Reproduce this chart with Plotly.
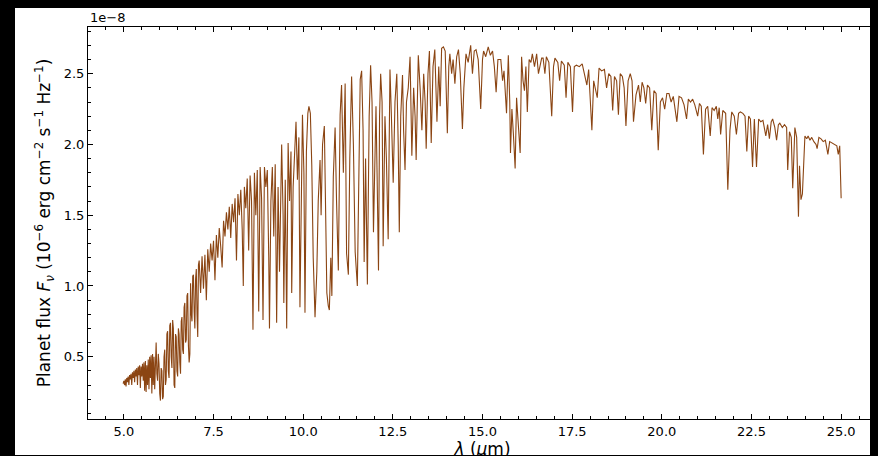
import plotly.graph_objects as go

# Wavelength (micron) and planet flux (units of 1e-8)
wavelength_um = [
    4.98, 5.00, 5.02, 5.04, 5.06, 5.08, 5.10, 5.12, 5.14, 5.16, 5.18, 5.20, 5.22, 5.24, 5.26, 5.28,
    5.30, 5.32, 5.34, 5.36, 5.38, 5.40, 5.42, 5.44, 5.46, 5.48, 5.50, 5.52, 5.54, 5.56, 5.58, 5.60,
    5.62, 5.64, 5.66, 5.68, 5.70, 5.72, 5.74, 5.76, 5.78, 5.80, 5.82, 5.84, 5.86, 5.88, 5.90, 5.92,
    5.94, 5.96, 5.98, 6.00, 6.02, 6.04, 6.06, 6.08, 6.10, 6.12, 6.14, 6.16, 6.18, 6.20, 6.22, 6.24,
    6.26, 6.28, 6.30, 6.32, 6.34, 6.36, 6.38, 6.40, 6.42, 6.44, 6.46, 6.48, 6.50, 6.52, 6.54, 6.56,
    6.58, 6.60, 6.62, 6.64, 6.66, 6.68, 6.70, 6.72, 6.74, 6.76, 6.78, 6.80, 6.82, 6.84, 6.86, 6.88,
    6.90, 6.92, 6.94, 6.96, 6.98, 7.00, 7.02, 7.04, 7.06, 7.08,
    7.10, 7.14, 7.18, 7.22, 7.26, 7.30, 7.34, 7.38, 7.42, 7.46, 7.50, 7.54, 7.58, 7.62, 7.66, 7.70,
    7.74, 7.78, 7.82, 7.86, 7.90, 7.94, 7.98, 8.02, 8.06, 8.10, 8.14, 8.18, 8.22, 8.26, 8.30, 8.33,
    8.36, 8.40, 8.44, 8.48, 8.52, 8.56, 8.60, 8.64, 8.68, 8.72, 8.76, 8.80, 8.84, 8.88, 8.92, 8.96,
    9.00, 9.04, 9.06, 9.10, 9.14, 9.18, 9.22, 9.26, 9.30, 9.34, 9.38, 9.40, 9.44, 9.46, 9.50, 9.54,
    9.58, 9.62, 9.66, 9.68, 9.72, 9.76, 9.80, 9.84, 9.88, 9.91, 9.95, 9.98, 10.02, 10.05, 10.09,
    10.13, 10.16, 10.20, 10.24, 10.28, 10.33, 10.38, 10.42, 10.47, 10.50, 10.54, 10.59, 10.63,
    10.66, 10.70, 10.73, 10.77, 10.80, 10.84, 10.89, 10.93, 10.98, 11.03, 11.07, 11.12, 11.17,
    11.21, 11.26, 11.30, 11.35, 11.40, 11.45, 11.51, 11.55, 11.59, 11.63, 11.67, 11.70, 11.74,
    11.79, 11.84, 11.88, 11.92, 11.96, 12.00, 12.03, 12.06, 12.10, 12.13, 12.16, 12.20, 12.23,
    12.28, 12.32, 12.37, 12.42, 12.46, 12.51, 12.56, 12.61, 12.65, 12.68, 12.72, 12.77, 12.80,
    12.84, 12.88, 12.93, 12.98, 13.03, 13.08, 13.12, 13.15, 13.21, 13.26, 13.31, 13.36, 13.40,
    13.43, 13.48, 13.52, 13.57, 13.62, 13.67, 13.73, 13.78, 13.82, 13.86, 13.91, 13.96, 14.02,
    14.06, 14.09, 14.14, 14.18, 14.23, 14.28, 14.33, 14.38, 14.44, 14.48, 14.54, 14.60, 14.67,
    14.72, 14.77, 14.82, 14.88, 14.95, 15.00, 15.03, 15.09, 15.16, 15.22, 15.28, 15.33, 15.38,
    15.43, 15.51, 15.56, 15.60, 15.67, 15.72, 15.76, 15.78, 15.82, 15.86, 15.91, 15.95, 16.00,
    16.05, 16.09, 16.13, 16.17, 16.21, 16.25, 16.30, 16.35, 16.39, 16.45, 16.51, 16.56, 16.60,
    16.65, 16.69, 16.74, 16.78, 16.85, 16.93, 16.98, 17.02, 17.10, 17.15, 17.20, 17.28, 17.33,
    17.38, 17.45, 17.51, 17.56, 17.62, 17.70, 17.78, 17.85, 17.91, 17.96, 18.05, 18.10, 18.20,
    18.25, 18.32, 18.40, 18.46, 18.52, 18.58, 18.63, 18.68, 18.74, 18.79, 18.84, 18.90, 18.95,
    19.00, 19.06, 19.12, 19.17, 19.21, 19.28, 19.35, 19.40, 19.45, 19.50, 19.55, 19.60, 19.66,
    19.72, 19.78, 19.84, 19.90, 19.96, 20.02, 20.08, 20.14, 20.20, 20.26, 20.32, 20.37, 20.42,
    20.48, 20.55, 20.62, 20.69, 20.74, 20.80, 20.86, 20.92, 21.00, 21.05, 21.10, 21.16, 21.22,
    21.28, 21.35, 21.40, 21.46, 21.52, 21.56, 21.60, 21.64, 21.70, 21.78, 21.84, 21.90, 21.95,
    22.02, 22.08, 22.14, 22.19, 22.26, 22.32, 22.37, 22.42, 22.47, 22.53, 22.58, 22.64, 22.70,
    22.76, 22.82, 22.90, 22.95, 23.00, 23.05, 23.09, 23.15, 23.20, 23.25, 23.29, 23.36, 23.42,
    23.48, 23.51, 23.56, 23.61, 23.65, 23.71, 23.76, 23.81, 23.84, 23.88, 23.92, 23.96, 23.99,
    24.04, 24.08, 24.13, 24.18, 24.24, 24.30, 24.33, 24.38, 24.44, 24.50, 24.56, 24.63, 24.68,
    24.74, 24.80, 24.88, 24.92, 24.96, 25.00,
]

flux_1e8 = [
    0.31, 0.33, 0.30, 0.34, 0.29, 0.35, 0.32, 0.36, 0.30, 0.37, 0.34, 0.38, 0.30, 0.39, 0.35, 0.40,
    0.32, 0.41, 0.36, 0.42, 0.30, 0.43, 0.37, 0.44, 0.28, 0.43, 0.36, 0.45, 0.33, 0.46, 0.26, 0.47,
    0.25, 0.44, 0.30, 0.48, 0.27, 0.50, 0.35, 0.51, 0.24, 0.52, 0.30, 0.50, 0.27, 0.56, 0.60, 0.38,
    0.33, 0.52, 0.45, 0.24, 0.19, 0.42, 0.40, 0.20, 0.22, 0.50, 0.55, 0.30, 0.34, 0.66, 0.68, 0.40,
    0.35, 0.72, 0.74, 0.50, 0.42, 0.76, 0.70, 0.30, 0.28, 0.66, 0.64, 0.40, 0.36, 0.70, 0.66, 0.46,
    0.38, 0.75, 0.78, 0.55, 0.52, 0.85, 0.88, 0.60, 0.62, 0.93, 0.95, 0.58, 0.46, 0.52, 1.02, 0.80,
    0.75, 1.07, 1.08, 0.82, 0.70, 1.05, 1.12, 0.80, 0.64, 1.15,
    1.18, 0.95, 1.21, 0.98, 1.22, 0.90, 1.26, 1.10, 1.30, 1.18, 1.32, 1.04, 1.36, 1.20, 1.41, 1.28,
    1.13, 1.46, 1.35, 1.52, 1.40, 1.56, 1.34, 1.58, 1.45, 1.62, 1.18, 1.65, 1.50, 1.68, 1.40, 1.00,
    1.70, 1.55, 1.76, 1.25, 1.78, 1.60, 0.69, 1.80, 1.50, 1.82, 0.82, 1.84, 1.62, 0.76, 1.84, 1.70,
    1.82, 1.20, 0.70, 1.60, 1.84, 1.35, 1.86, 0.74, 1.70, 1.10, 1.90, 2.00, 1.50, 0.88, 1.75, 0.70,
    2.01, 1.60, 1.95, 0.95, 1.70, 1.90, 2.16, 1.75, 2.05, 0.85, 1.90, 2.21, 1.80, 0.81, 1.95,
    2.22, 2.27, 2.22, 1.85, 1.20, 0.78, 1.10, 1.60, 1.89, 1.50, 2.00, 2.13, 1.40,
    0.95, 0.86, 0.83, 1.20, 0.93, 1.77, 2.12, 1.60, 1.11, 2.21, 2.42, 1.80, 2.43,
    1.23, 1.08, 1.90, 2.48, 2.00, 1.24, 1.00, 1.80, 2.46, 2.52, 2.10, 1.17, 1.90,
    1.01, 2.20, 2.56, 2.30, 1.38, 2.00, 2.27, 1.80, 1.11, 2.20, 2.50, 2.30, 1.28,
    2.20, 1.90, 1.33, 2.53, 2.20, 1.73, 2.30, 2.50, 2.00, 1.38, 2.20, 2.49, 2.10,
    1.82, 2.30, 2.40, 2.62, 1.92, 2.40, 2.20, 1.89, 2.63, 2.40, 2.10, 2.50, 2.30,
    1.97, 2.50, 2.66, 2.01, 2.55, 2.67, 2.16, 2.55, 2.27, 2.68, 2.69, 2.66, 2.08,
    2.55, 2.64, 2.50, 2.60, 2.43, 2.62, 2.67, 2.50, 2.11, 2.40, 2.64, 2.58, 2.70,
    2.50, 2.66, 2.67, 2.60, 2.25, 2.60, 2.66, 2.62, 2.69, 2.63, 2.66, 2.55, 2.37,
    2.60, 2.60, 2.45, 2.52, 2.22, 2.63, 2.30, 1.94, 2.25, 2.08, 1.83, 2.33, 2.10,
    1.94, 2.62, 2.45, 2.38, 2.55, 2.23, 2.60, 2.58, 2.64, 2.55, 2.64, 2.50, 2.56,
    2.61, 2.61, 2.50, 2.62, 2.58, 2.20, 2.55, 2.61, 2.58, 2.45, 2.59, 2.56, 2.33,
    2.58, 2.55, 2.23, 2.55, 2.56, 2.55, 2.57, 2.50, 2.42, 2.53, 2.10, 2.45, 2.33,
    2.54, 2.52, 2.53, 2.40, 2.50, 2.48, 2.24, 2.48, 2.45, 2.21, 2.50, 2.48, 2.40,
    2.13, 2.45, 2.50, 2.45, 2.16, 2.35, 2.42, 2.30, 2.44, 2.40, 2.29, 2.42, 2.40,
    2.10, 2.38, 2.36, 1.96, 2.30, 2.33, 2.25, 2.36, 2.36, 2.30, 2.34, 2.25, 2.16,
    2.34, 2.33, 2.28, 2.18, 2.32, 2.30, 2.32, 2.28, 2.20, 2.29, 2.27, 1.93, 2.25,
    2.27, 2.06, 2.26, 2.24, 2.27, 2.18, 2.26, 2.07, 2.24, 2.22, 1.68, 2.10, 2.23,
    2.20, 2.07, 2.22, 2.23, 2.22, 2.20, 1.95, 2.20, 2.18, 1.84, 2.18, 1.84, 2.18,
    2.16, 2.17, 2.06, 2.14, 2.04, 2.16, 2.18, 2.12, 2.03, 2.14, 2.15, 2.12, 2.14,
    2.12, 1.82, 2.09, 2.05, 1.69, 2.12, 2.05, 1.49, 1.85, 1.61, 1.65, 1.90, 2.06,
    2.04, 2.06, 2.03, 2.05, 2.02, 2.00, 1.97, 2.05, 2.04, 2.02, 2.03, 1.93, 2.02,
    2.01, 2.00, 1.99, 1.93, 1.99, 1.62,
]

x_ticks = [5.0, 7.5, 10.0, 12.5, 15.0, 17.5, 20.0, 22.5, 25.0]
y_ticks = [0.5, 1.0, 1.5, 2.0, 2.5]

FONT = "DejaVu Sans"

fig = go.Figure()
fig.add_trace(go.Scatter(
    x=wavelength_um, y=flux_1e8, mode="lines",
    line=dict(color="#8B4513", width=1.1),
    showlegend=False,
))

axis_common = dict(
    showline=True, linecolor="black", linewidth=1.1, mirror="allticks",
    ticks="inside", ticklen=5, tickwidth=1.1, tickcolor="black",
    showgrid=False, zeroline=False,
    tickfont=dict(family=FONT, size=13, color="black"),
)

fig.update_xaxes(
    range=[4.0, 26.0],
    tickvals=x_ticks, ticktext=[f"{t:.1f}" for t in x_ticks],
    minor=dict(dtick=0.5, tick0=0, ticks="inside", ticklen=3, tickwidth=1, tickcolor="black"),
    title=dict(text="<i>λ</i> (<i>μ</i>m)", font=dict(family=FONT, size=17, color="black"), standoff=2),
    **axis_common,
)
fig.update_yaxes(
    range=[0.06, 2.83],
    tickvals=y_ticks, ticktext=[f"{t:.1f}" for t in y_ticks],
    minor=dict(dtick=0.1, tick0=0, ticks="inside", ticklen=3, tickwidth=1, tickcolor="black"),
    title=dict(
        text="Planet flux <i>F</i><sub><i>ν</i></sub> (10<sup>−6</sup> erg cm<sup>−2</sup> s<sup>−1</sup> Hz<sup>−1</sup>)",
        font=dict(family=FONT, size=17, color="black"), standoff=8),
    **axis_common,
)

# white figure area over black surround
fig.add_shape(type="rect", xref="paper", yref="paper",
              x0=(7 - 80) / 789, x1=1.02, y0=(411 - 447) / 392, y1=(411 - 0) / 392,
              fillcolor="white", line=dict(width=0), layer="below")

fig.add_annotation(text="1e−8", xref="paper", yref="paper", x=0, y=1.0,
                   xanchor="left", yanchor="bottom", showarrow=False, yshift=0,
                   font=dict(family=FONT, size=13, color="black"))

fig.update_layout(
    width=878, height=456,
    margin=dict(l=80, r=9, t=19, b=45),
    paper_bgcolor="black", plot_bgcolor="white",
    font=dict(family=FONT, color="black"),
)

fig.write_html("out.html", post_script="document.body.style.background = 'black';")
